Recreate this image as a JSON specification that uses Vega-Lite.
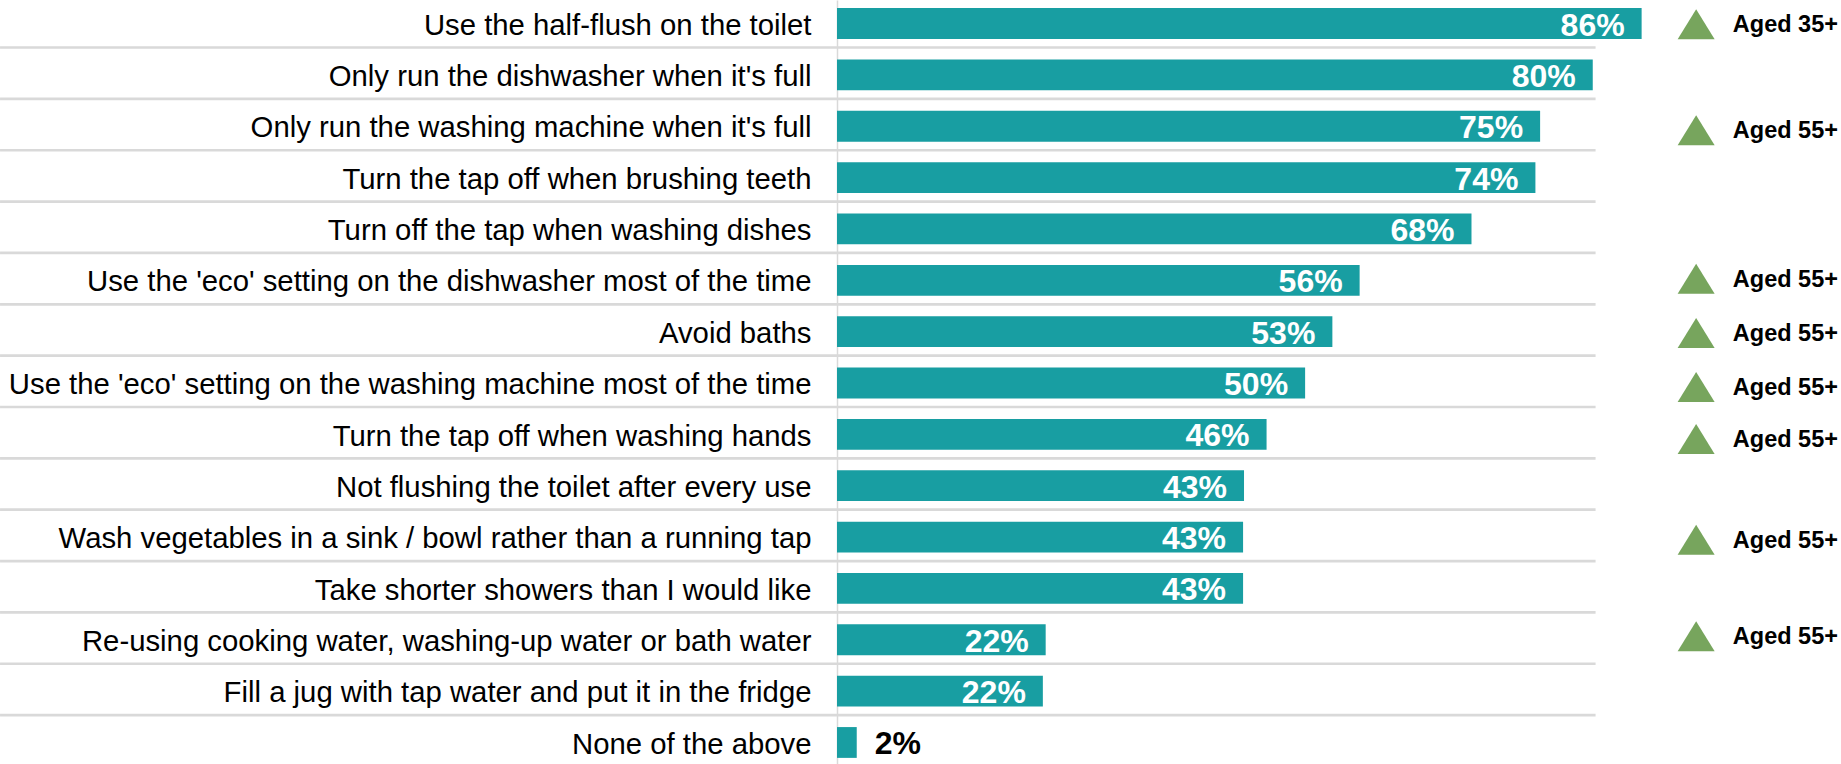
{
  "$schema": "https://vega.github.io/schema/vega-lite/v6.json",
  "width": 1004,
  "height": 764,
  "autosize": "none",
  "padding": {"left": 837, "top": 0, "right": 0, "bottom": 0},
  "background": "white",
  "config": {"view": {"stroke": null}, "font": "Liberation Sans"},
  "params": [
    {"name": "calloutNudge", "value": {
      "Use the half-flush on the toilet": 0.8,
      "Only run the washing machine when it's full": 4.1,
      "Use the 'eco' setting on the dishwasher most of the time": -1.6,
      "Avoid baths": 1.3,
      "Use the 'eco' setting on the washing machine most of the time": 4,
      "Turn the tap off when washing hands": 4.6,
      "Wash vegetables in a sink / bowl rather than a running tap": 2.6,
      "Re-using cooking water, washing-up water or bath water": -3.5
    }}
  ],
  "data": {
    "values": [
      {"activity": "Use the half-flush on the toilet", "share": 0.856, "older": "Aged 35+"},
      {"activity": "Only run the dishwasher when it's full", "share": 0.804},
      {"activity": "Only run the washing machine when it's full", "share": 0.748, "older": "Aged 55+"},
      {"activity": "Turn the tap off when brushing teeth", "share": 0.743},
      {"activity": "Turn off the tap when washing dishes", "share": 0.675},
      {"activity": "Use the 'eco' setting on the dishwasher most of the time", "share": 0.556, "older": "Aged 55+"},
      {"activity": "Avoid baths", "share": 0.527, "older": "Aged 55+"},
      {"activity": "Use the 'eco' setting on the washing machine most of the time", "share": 0.498, "older": "Aged 55+"},
      {"activity": "Turn the tap off when washing hands", "share": 0.457, "older": "Aged 55+"},
      {"activity": "Not flushing the toilet after every use", "share": 0.433},
      {"activity": "Wash vegetables in a sink / bowl rather than a running tap", "share": 0.432, "older": "Aged 55+"},
      {"activity": "Take shorter showers than I would like", "share": 0.432},
      {"activity": "Re-using cooking water, washing-up water or bath water", "share": 0.222, "older": "Aged 55+"},
      {"activity": "Fill a jug with tap water and put it in the fridge", "share": 0.219},
      {"activity": "None of the above", "share": 0.021}
    ]
  },
  "encoding": {
    "y": {
      "field": "activity",
      "type": "nominal",
      "sort": null,
      "title": null,
      "scale": {"range": [0, 766], "paddingInner": 0.4, "paddingOuter": 0.158},
      "axis": {
        "orient": "left",
        "domainColor": "#d9d9d9",
        "domainWidth": 1.5,
        "ticks": false,
        "labelPadding": 26,
        "labelOffset": 2.2,
        "labelFont": "Liberation Sans",
        "labelFontSize": 29.3,
        "labelColor": "#000000",
        "labelLimit": 900
      }
    }
  },
  "layer": [
    {
      "transform": [{"filter": "datum.activity !== 'None of the above'"}],
      "mark": {"type": "rule", "color": "#d9d9d9", "strokeWidth": 2.7, "yOffset": 24},
      "encoding": {
        "x": {"datum": -0.8904, "type": "quantitative", "scale": {"domain": [0, 1.0681], "nice": false, "zero": false}, "axis": null},
        "x2": {"datum": 0.807}
      }
    },
    {
      "mark": {"type": "bar", "color": "#189ea2"},
      "encoding": {
        "x": {"field": "share", "type": "quantitative", "scale": {"domain": [0, 1.0681], "nice": false, "zero": false}, "axis": null}
      }
    },
    {
      "transform": [{"filter": "datum.share >= 0.1"}],
      "mark": {"type": "text", "align": "right", "baseline": "middle", "dx": -17, "dy": 2, "fontSize": 32, "fontWeight": "bold", "color": "#ffffff", "font": "Liberation Sans"},
      "encoding": {
        "x": {"field": "share", "type": "quantitative", "scale": {"domain": [0, 1.0681], "nice": false, "zero": false}, "axis": null},
        "text": {"field": "share", "type": "quantitative", "format": ".0%"}
      }
    },
    {
      "transform": [{"filter": "datum.share < 0.1"}],
      "mark": {"type": "text", "align": "left", "baseline": "middle", "dx": 18, "dy": 2, "fontSize": 32, "fontWeight": "bold", "color": "#000000", "font": "Liberation Sans"},
      "encoding": {
        "x": {"field": "share", "type": "quantitative", "scale": {"domain": [0, 1.0681], "nice": false, "zero": false}, "axis": null},
        "text": {"field": "share", "type": "quantitative", "format": ".0%"}
      }
    },
    {
      "transform": [{"filter": "isValid(datum.older)"}],
      "mark": {"type": "point", "shape": "M-1.233,1L0,-1L1.233,1Z", "filled": true, "size": 900, "color": "#77a55d", "opacity": 1, "yOffset": {"expr": "calloutNudge[datum.activity]"}},
      "encoding": {
        "x": {"datum": 0.914, "type": "quantitative", "scale": {"domain": [0, 1.0681], "nice": false, "zero": false}, "axis": null}
      }
    },
    {
      "transform": [{"filter": "isValid(datum.older)"}],
      "mark": {"type": "text", "align": "left", "baseline": "middle", "dy": 1, "fontSize": 23.5, "fontWeight": "bold", "color": "#000000", "font": "Liberation Sans", "yOffset": {"expr": "calloutNudge[datum.activity]"}},
      "encoding": {
        "x": {"datum": 0.953, "type": "quantitative", "scale": {"domain": [0, 1.0681], "nice": false, "zero": false}, "axis": null},
        "text": {"field": "older", "type": "nominal"}
      }
    }
  ]
}
